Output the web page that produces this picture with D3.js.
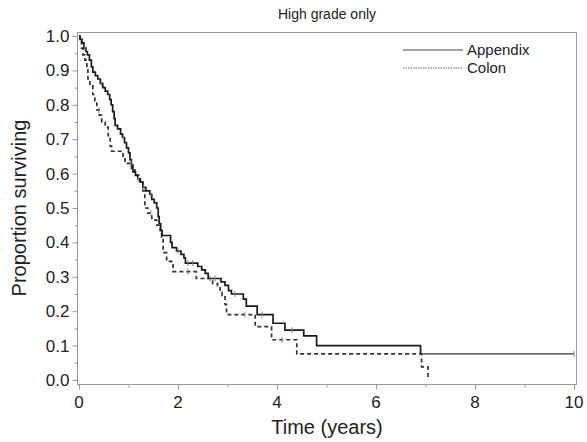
<!DOCTYPE html>
<html>
<head>
<meta charset="utf-8">
<script src="https://cdn.jsdelivr.net/npm/d3@7"></script>
<style>
  body { margin: 0; background: #fff; }
  svg { display: block; font-family: "Liberation Sans", Arial, sans-serif; }
</style>
</head>
<body>
<svg id="chart" width="587" height="442"></svg>
<script>
// Kaplan-Meier steps: [time (years), survival after the drop]
var appendixSteps = [
  [0.02, 0.99], [0.06, 0.98], [0.10, 0.965], [0.14, 0.955], [0.17, 0.945],
  [0.21, 0.93], [0.25, 0.91], [0.28, 0.895], [0.33, 0.885], [0.38, 0.875],
  [0.43, 0.862], [0.48, 0.85], [0.53, 0.84], [0.58, 0.83], [0.62, 0.815],
  [0.65, 0.80], [0.68, 0.78], [0.71, 0.76], [0.73, 0.74], [0.78, 0.73],
  [0.84, 0.715], [0.88, 0.705], [0.92, 0.69], [0.96, 0.675], [1.00, 0.66],
  [1.03, 0.64], [1.06, 0.625], [1.09, 0.605], [1.14, 0.595], [1.19, 0.585],
  [1.24, 0.575], [1.29, 0.56], [1.35, 0.55], [1.43, 0.54], [1.47, 0.525],
  [1.52, 0.515], [1.57, 0.50], [1.60, 0.475], [1.62, 0.455], [1.65, 0.435],
  [1.68, 0.42], [1.85, 0.40], [1.88, 0.385], [1.97, 0.375], [2.06, 0.365],
  [2.12, 0.355], [2.15, 0.34], [2.40, 0.33], [2.48, 0.32], [2.55, 0.31],
  [2.61, 0.295], [2.87, 0.285], [2.95, 0.275], [3.02, 0.26], [3.08, 0.25],
  [3.32, 0.235], [3.38, 0.215], [3.60, 0.19], [3.92, 0.165], [4.16, 0.145],
  [4.54, 0.128], [4.80, 0.10], [6.90, 0.076]
];
var appendixEnd = 10;
var appendixCensor = [0.12, 0.45, 0.9, 1.2, 1.31, 1.45, 2.0, 2.2, 2.3, 2.65, 2.75, 3.15, 3.7, 4.3, 10];

var colonSteps = [
  [0.02, 0.985], [0.05, 0.965], [0.08, 0.945], [0.12, 0.93], [0.16, 0.91],
  [0.18, 0.875], [0.22, 0.855], [0.28, 0.83], [0.32, 0.81], [0.36, 0.785],
  [0.41, 0.77], [0.46, 0.75], [0.53, 0.735], [0.59, 0.71], [0.63, 0.68],
  [0.66, 0.665], [0.89, 0.65], [0.93, 0.63], [1.06, 0.615], [1.13, 0.605],
  [1.17, 0.595], [1.23, 0.575], [1.29, 0.55], [1.33, 0.50], [1.39, 0.485],
  [1.47, 0.465], [1.57, 0.45], [1.64, 0.435], [1.67, 0.415], [1.70, 0.37],
  [1.77, 0.345], [1.87, 0.335], [1.90, 0.315], [2.37, 0.295], [2.70, 0.28],
  [2.80, 0.268], [2.85, 0.255], [2.89, 0.245], [2.95, 0.22], [2.98, 0.19],
  [3.56, 0.155], [3.89, 0.117], [4.40, 0.076], [6.92, 0.038], [7.05, 0]
];
var colonEnd = 7.05;
var colonCensor = [0.4, 1.05, 1.45, 2.2, 3.35, 4.1];

var xTicks = [0, 2, 4, 6, 8, 10];
var yTicks = [0, 0.1, 0.2, 0.3, 0.4, 0.5, 0.6, 0.7, 0.8, 0.9, 1.0];
var titleText = 'High grade only';
var xLabel = 'Time (years)';
var yLabel = 'Proportion surviving';
var legendNames = ['Appendix', 'Colon'];

var svg = d3.select('#chart');

var x = d3.scaleLinear().domain([0, 10]).range([79, 574]);
var y = d3.scaleLinear().domain([0, 1]).range([380, 36]);

var frame = { left: 77, right: 576, top: 32, bottom: 384 };
var axisColor = '#9a9a9a';
var textColor = '#222';

// plot frame
svg.append('rect')
  .attr('x', frame.left + 0.5)
  .attr('y', frame.top + 0.5)
  .attr('width', frame.right - frame.left)
  .attr('height', frame.bottom - frame.top)
  .attr('fill', 'none')
  .attr('stroke', axisColor);

// x axis
var xMinor = d3.range(1, 10, 2);
var gx = svg.append('g').attr('transform', 'translate(0,' + (frame.bottom + 0.5) + ')');
gx.selectAll('line.major').data(xTicks).enter().append('line')
  .attr('x1', function(d) { return x(d) + 0.5; })
  .attr('x2', function(d) { return x(d) + 0.5; })
  .attr('y1', 0).attr('y2', 5)
  .attr('stroke', axisColor);
gx.selectAll('line.minor').data(xMinor).enter().append('line')
  .attr('x1', function(d) { return x(d) + 0.5; })
  .attr('x2', function(d) { return x(d) + 0.5; })
  .attr('y1', 0).attr('y2', 3)
  .attr('stroke', axisColor);
gx.selectAll('text').data(xTicks).enter().append('text')
  .attr('x', function(d) { return x(d); })
  .attr('y', 23)
  .attr('text-anchor', 'middle')
  .attr('font-size', 17)
  .attr('fill', textColor)
  .text(function(d) { return d; });

// y axis
var yMinor = d3.range(0.05, 1, 0.1);
var gy = svg.append('g').attr('transform', 'translate(' + (frame.left + 0.5) + ',0)');
gy.selectAll('line.major').data(yTicks).enter().append('line')
  .attr('y1', function(d) { return y(d) + 0.5; })
  .attr('y2', function(d) { return y(d) + 0.5; })
  .attr('x1', 0).attr('x2', -5)
  .attr('stroke', axisColor);
gy.selectAll('line.minor').data(yMinor).enter().append('line')
  .attr('y1', function(d) { return y(d) + 0.5; })
  .attr('y2', function(d) { return y(d) + 0.5; })
  .attr('x1', 0).attr('x2', -3)
  .attr('stroke', axisColor);
gy.selectAll('text').data(yTicks).enter().append('text')
  .attr('x', -8)
  .attr('y', function(d) { return y(d); })
  .attr('dy', '0.35em')
  .attr('text-anchor', 'end')
  .attr('font-size', 17)
  .attr('fill', textColor)
  .text(function(d) { return d3.format('.1f')(d); });

// titles
svg.append('text')
  .attr('x', 327).attr('y', 19)
  .attr('text-anchor', 'middle')
  .attr('font-size', 14)
  .attr('fill', textColor)
  .text(titleText);
svg.append('text')
  .attr('x', 327).attr('y', 434)
  .attr('text-anchor', 'middle')
  .attr('font-size', 20)
  .attr('fill', textColor)
  .text(xLabel);
svg.append('text')
  .attr('transform', 'translate(26,' + 208 + ') rotate(-90)')
  .attr('text-anchor', 'middle')
  .attr('font-size', 20)
  .attr('fill', textColor)
  .text(yLabel);

// survival curves
function stepPoints(steps, end) {
  var pts = [[0, 1]];
  steps.forEach(function(s) { pts.push(s); });
  pts.push([end, steps[steps.length - 1][1]]);
  return pts;
}

function survivalAt(steps, t) {
  var s = 1;
  steps.forEach(function(d) { if (d[0] <= t) s = d[1]; });
  return s;
}

var line = d3.line()
  .x(function(d) { return x(d[0]); })
  .y(function(d) { return y(d[1]); })
  .curve(d3.curveStepAfter);

svg.append('path')
  .datum(stepPoints(colonSteps, colonEnd))
  .attr('d', line)
  .attr('fill', 'none')
  .attr('stroke', '#333')
  .attr('stroke-width', 1.7)
  .attr('stroke-dasharray', '4,3');

// appendix: thick up to the last drop, thinner tail to the end of follow-up
var appPts = stepPoints(appendixSteps, appendixEnd);
var tail = appPts.slice(-2);
svg.append('path')
  .datum(appPts.slice(0, -1))
  .attr('d', line)
  .attr('fill', 'none')
  .attr('stroke', '#1a1a1a')
  .attr('stroke-width', 1.7);
svg.append('path')
  .datum(tail)
  .attr('d', line)
  .attr('fill', 'none')
  .attr('stroke', '#333')
  .attr('stroke-width', 1.1);

// censor marks
function drawCensor(times, steps) {
  svg.append('g').selectAll('line').data(times).enter().append('line')
    .attr('x1', function(d) { return x(d); })
    .attr('x2', function(d) { return x(d); })
    .attr('y1', function(d) { return y(survivalAt(steps, d)) - 3; })
    .attr('y2', function(d) { return y(survivalAt(steps, d)) + 3; })
    .attr('stroke', '#888')
    .attr('stroke-width', 1);
}
drawCensor(appendixCensor, appendixSteps);
drawCensor(colonCensor, colonSteps);

// legend
var legend = svg.append('g');
var legendStyles = [
  { dash: null, color: '#444' },
  { dash: '1.5,1', color: '#666' }
];
legendNames.forEach(function(name, i) {
  var ly = 50 + i * 18;
  legend.append('line')
    .attr('x1', 403).attr('x2', 463)
    .attr('y1', ly).attr('y2', ly)
    .attr('stroke', legendStyles[i].color)
    .attr('stroke-width', 1)
    .attr('stroke-dasharray', legendStyles[i].dash);
  legend.append('text')
    .attr('x', 467).attr('y', ly)
    .attr('dy', '0.35em')
    .attr('font-size', 15)
    .attr('fill', textColor)
    .text(name);
});
</script>
</body>
</html>
